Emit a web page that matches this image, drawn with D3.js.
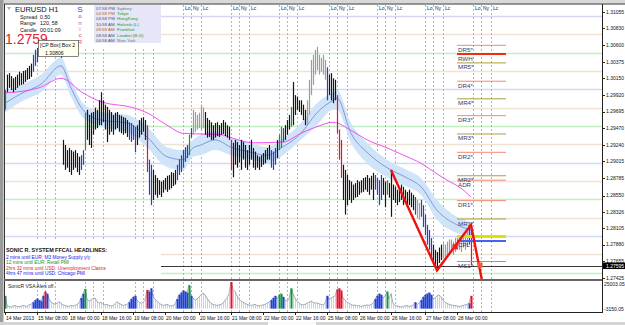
<!DOCTYPE html>
<html>
<head>
<meta charset="utf-8">
<script src="https://cdn.jsdelivr.net/npm/d3@7"></script>
<style>
  body { margin: 0; background: #fff; }
  svg { display: block; font-family: "Liberation Sans", Arial, sans-serif; }
</style>
</head>
<body>
<svg id="chart" width="625" height="325"></svg>
<script>
// EURUSD H1, 14-28 Mar 2013
const highs = [
  1.2999, 1.3020, 1.3022, 1.3018, 1.3015, 1.3017, 1.3020, 1.3024, 1.3022, 1.3025,
  1.3026, 1.3029, 1.3032, 1.3035, 1.3047, 1.3054, 1.3060, 1.3067, 1.3070, 1.3074,
  1.3078, 1.3081, 1.3081, 1.3077, 1.3074, 1.3073, 1.3070, 1.3067, 1.3065, 1.2931,
  1.2924, 1.2917, 1.2920, 1.2917, 1.2915, 1.2917, 1.2913, 1.2908, 1.2910, 1.2917,
  1.2968, 1.2972, 1.2965, 1.2968, 1.2969, 1.2975, 1.2972, 1.2985, 1.2996, 1.2985,
  1.2979, 1.2976, 1.2972, 1.2969, 1.2965, 1.2968, 1.2969, 1.2965, 1.2964, 1.2962,
  1.2961, 1.2958, 1.2955, 1.2954, 1.2951, 1.2949, 1.2951, 1.2958, 1.2961, 1.2962,
  1.2958, 1.2951, 1.2904, 1.2897, 1.2890, 1.2883, 1.2879, 1.2876, 1.2874, 1.2876,
  1.2879, 1.2882, 1.2883, 1.2887, 1.2886, 1.2890, 1.2897, 1.2904, 1.2910, 1.2917,
  1.2921, 1.2924, 1.2938, 1.2947, 1.2972, 1.2969, 1.2965, 1.2968, 1.2979, 1.2975,
  1.2969, 1.2961, 1.2958, 1.2955, 1.2951, 1.2954, 1.2955, 1.2951, 1.2954, 1.2958,
  1.2955, 1.2951, 1.2949, 1.2931, 1.2927, 1.2931, 1.2928, 1.2924, 1.2931, 1.2928,
  1.2924, 1.2917, 1.2924, 1.2931, 1.2920, 1.2915, 1.2910, 1.2908, 1.2910, 1.2913,
  1.2917, 1.2920, 1.2924, 1.2917, 1.2915, 1.2920, 1.2931, 1.2938, 1.2949, 1.2947,
  1.2951, 1.2958, 1.2965, 1.2976, 1.3010, 1.2992, 1.2990, 1.2985, 1.2985, 1.2979,
  1.2972, 1.2985, 1.3013, 1.3040, 1.3047, 1.3054, 1.3058, 1.3047, 1.3043, 1.3047,
  1.3040, 1.3030, 1.3020, 1.3022, 1.3015, 1.3013, 1.2992, 1.2945, 1.2931, 1.2897,
  1.2890, 1.2883, 1.2876, 1.2874, 1.2870, 1.2872, 1.2876, 1.2874, 1.2876, 1.2879,
  1.2880, 1.2883, 1.2879, 1.2882, 1.2886, 1.2883, 1.2879, 1.2876, 1.2883, 1.2879,
  1.2874, 1.2876, 1.2872, 1.2890, 1.2870, 1.2867, 1.2863, 1.2865, 1.2870, 1.2867,
  1.2863, 1.2860, 1.2863, 1.2859, 1.2856, 1.2853, 1.2849, 1.2845, 1.2849, 1.2842,
  1.2829, 1.2815, 1.2808, 1.2797, 1.2788, 1.2781, 1.2778, 1.2784, 1.2788, 1.2790,
  1.2788, 1.2792, 1.2795, 1.2795, 1.2792, 1.2797, 1.2800, 1.2801, 1.2799, 1.2804,
  1.2801, 1.2808, 1.2811, 1.2815
]
const lows = [
  1.2972, 1.2996, 1.3002, 1.2999, 1.2996, 1.2999, 1.3002, 1.3005, 1.3006, 1.3007,
  1.3010, 1.3013, 1.3014, 1.3017, 1.3024, 1.3032, 1.3037, 1.3047, 1.3051, 1.3054,
  1.3056, 1.3060, 1.3062, 1.3058, 1.3054, 1.3051, 1.3048, 1.3047, 1.3043, 1.2897,
  1.2890, 1.2893, 1.2887, 1.2883, 1.2890, 1.2893, 1.2887, 1.2883, 1.2890, 1.2897,
  1.2917, 1.2931, 1.2924, 1.2920, 1.2938, 1.2945, 1.2947, 1.2951, 1.2951, 1.2955,
  1.2945, 1.2928, 1.2938, 1.2942, 1.2938, 1.2945, 1.2947, 1.2942, 1.2940, 1.2938,
  1.2940, 1.2935, 1.2931, 1.2928, 1.2931, 1.2914, 1.2924, 1.2934, 1.2938, 1.2942,
  1.2931, 1.2887, 1.2856, 1.2842, 1.2849, 1.2856, 1.2852, 1.2856, 1.2853, 1.2859,
  1.2863, 1.2860, 1.2863, 1.2865, 1.2868, 1.2870, 1.2876, 1.2883, 1.2887, 1.2893,
  1.2901, 1.2906, 1.2910, 1.2934, 1.2938, 1.2942, 1.2945, 1.2947, 1.2945, 1.2947,
  1.2938, 1.2934, 1.2935, 1.2931, 1.2931, 1.2934, 1.2936, 1.2935, 1.2938, 1.2939,
  1.2936, 1.2934, 1.2931, 1.2890, 1.2880, 1.2897, 1.2893, 1.2900, 1.2890, 1.2904,
  1.2893, 1.2890, 1.2897, 1.2904, 1.2893, 1.2890, 1.2893, 1.2890, 1.2894, 1.2897,
  1.2899, 1.2904, 1.2904, 1.2893, 1.2890, 1.2897, 1.2906, 1.2917, 1.2920, 1.2928,
  1.2931, 1.2938, 1.2945, 1.2949, 1.2951, 1.2965, 1.2972, 1.2969, 1.2965, 1.2958,
  1.2951, 1.2951, 1.2965, 1.2992, 1.3006, 1.3020, 1.3026, 1.3020, 1.3024, 1.3020,
  1.3013, 1.2985, 1.2992, 1.2985, 1.2981, 1.2985, 1.2940, 1.2904, 1.2879, 1.2849,
  1.2829, 1.2842, 1.2849, 1.2845, 1.2849, 1.2852, 1.2853, 1.2856, 1.2859, 1.2860,
  1.2863, 1.2860, 1.2856, 1.2863, 1.2849, 1.2863, 1.2856, 1.2842, 1.2849, 1.2856,
  1.2839, 1.2856, 1.2852, 1.2826, 1.2849, 1.2845, 1.2842, 1.2846, 1.2849, 1.2842,
  1.2845, 1.2839, 1.2842, 1.2839, 1.2835, 1.2829, 1.2824, 1.2822, 1.2826, 1.2812,
  1.2801, 1.2788, 1.2781, 1.2767, 1.2764, 1.2760, 1.2756, 1.2763, 1.2767, 1.2770,
  1.2771, 1.2773, 1.2774, 1.2777, 1.2774, 1.2778, 1.2781, 1.2781, 1.2778, 1.2784,
  1.2781, 1.2785, 1.2788, 1.2760
]
// Sonic R VSA bar colouring: k normal, g grey, b blue, e green, r red  (runs of [type, count])
const barTypeRuns = [
  ['e',1],['k',13],['b',6],['r',1],['b',1],['k',16],['b',2],['e',1],['k',21],['b',4],['k',5],['r',1],
  ['b',2],['k',12],['b',6],['e',1],['b',1],['g',6],['k',13],['r',1],['k',19],['b',3],['k',1],['e',2],
  ['b',1],['k',3],['e',1],['k',7],['g',10],['b',1],['k',4],['r',3],['k',16],['b',4],['k',2],['e',1],
  ['k',13],['b',1],['g',2],['b',6],['k',5],['g',13],['b',1],['r',1]
]
const volumes = [
  12000,
  3000, 2000, 1500, 2500, 3000, 2000, 1800, 2200, 3000, 2500, 2000, 3500, 4000,
  6000, 8000, 9500, 8000, 7000,
  12000, 16000, 14000, 9000, 6000, 5000,
  4000, 5000, 6500, 5000, 3500, 3000, 2500, 2000, 3000, 2500, 3000, 4000, 5000,
  10000, 14000, 18500,
  9000, 7000, 8000, 9500, 10000, 7000, 5000, 6000, 4000, 3500, 4000, 3000, 2500, 3000, 4500, 6500, 5000, 4000, 3000, 3500, 4000,
  6000, 9000, 11000, 12000, 8000, 6000,
  5000, 6000, 8000, 17500, 16000, 19000, 12000, 9000,
  7000, 5000, 4000, 3000, 3500, 4000, 3000, 2500, 3000, 4000,
  9000, 13000, 15000, 17000, 16000, 15000, 22000, 12000,
  10000, 8000, 9000, 11000, 13000, 14500, 13000, 10000, 7000, 5000, 4000, 3500, 3000, 3500, 4000, 5000,
  8000, 10000, 14000, 25000, 18000, 16000, 12000,
  9000, 7000, 6000, 5000, 4000, 3500, 3000, 3500, 4000, 3000, 2500, 3000, 3500, 4000, 5000, 6000,
  8000, 10000, 12000, 9000, 13000, 14000, 11000, 8000, 7000, 9000, 19000,
  14000, 10000, 7000, 5000, 4000, 3500, 4000, 5000, 6000, 7000, 6000, 5000, 5500, 4500, 4000, 3500, 5000,
  12000, 9000, 10000, 11000, 12000, 18000, 19000, 17000, 10000,
  8000, 6000, 5000, 4000, 3000, 3500, 2500, 3000, 2000, 2500, 3000, 3500, 3000, 4000, 5000,
  9000, 12000, 14000, 13000, 10000, 12000, 16000, 9000, 14000,
  5000, 3000, 2500, 2000, 1500, 2000, 2500, 3000, 2000, 2500, 3000, 6000,
  4000, 5000, 8000, 11000, 13000, 14000, 15000, 13000, 9000,
  10000, 12000, 13000, 11000, 8000, 6000, 5000, 4000, 3500, 3000, 3000,
  2500, 2000, 2500, 3000, 3500, 4000,
  5000, 12000
]
// Sonic R dragon (EMA34 high / low / close) and the slow EMA, read at these bars
const bandIdx   = [0, 8, 18, 28, 33, 39, 48, 61, 71, 81, 89, 94, 98, 105, 113, 123, 131, 138, 148, 156, 164, 166, 173, 181, 191, 201, 208, 216, 226, 233]
const bandUpper = [1.2996, 1.3006, 1.3020, 1.3043, 1.3013, 1.2981, 1.2969, 1.2965, 1.2949, 1.2921, 1.2917, 1.2931, 1.2938, 1.2942, 1.2934, 1.2927, 1.2921, 1.2931, 1.2954, 1.2981, 1.2996, 1.2999, 1.2954, 1.2927, 1.2904, 1.2890, 1.2879, 1.2849, 1.2826, 1.2819]
const bandLower = [1.2968, 1.2983, 1.2996, 1.3020, 1.2990, 1.2961, 1.2949, 1.2942, 1.2921, 1.2894, 1.2890, 1.2908, 1.2910, 1.2917, 1.2910, 1.2904, 1.2899, 1.2908, 1.2931, 1.2951, 1.2972, 1.2972, 1.2927, 1.2899, 1.2880, 1.2867, 1.2856, 1.2822, 1.2804, 1.2799]
const bandMid   = [1.2981, 1.2994, 1.3007, 1.3032, 1.3002, 1.2972, 1.2958, 1.2954, 1.2935, 1.2908, 1.2904, 1.2920, 1.2924, 1.2931, 1.2921, 1.2914, 1.2910, 1.2920, 1.2940, 1.2968, 1.2985, 1.2988, 1.2940, 1.2914, 1.2893, 1.2879, 1.2867, 1.2835, 1.2815, 1.2808]
const slowIdx = [0, 17, 28, 39, 48, 64, 71, 81, 89, 98, 108, 113, 124, 139, 148, 156, 164, 173, 181, 191, 201, 208, 213, 221, 228, 233]
const slowMa  = [1.2995, 1.3002, 1.3015, 1.2995, 1.2983, 1.2975, 1.2968, 1.2951, 1.2940, 1.2939, 1.2938, 1.2934, 1.2927, 1.2928, 1.2940, 1.2949, 1.2955, 1.2944, 1.2931, 1.2920, 1.2908, 1.2899, 1.2890, 1.2876, 1.2865, 1.2853]

const priceTicks = [1.31055, 1.30830, 1.30600, 1.30375, 1.30150, 1.29920, 1.29695, 1.29470, 1.29240, 1.29015, 1.28785, 1.28550, 1.28326, 1.28105, 1.27880, 1.27655, 1.27425]
const timeLabelIdx = [0, 16, 32, 48, 64, 80, 97, 113, 129, 145, 161, 177, 193, 210, 226]
const timeLabels = ['14 Mar 2013', '15 Mar 08:00', '18 Mar 00:00', '18 Mar 16:00', '19 Mar 08:00', '20 Mar 00:00', '20 Mar 16:00', '21 Mar 08:00', '22 Mar 00:00', '22 Mar 16:00', '25 Mar 08:00', '26 Mar 00:00', '26 Mar 16:00', '27 Mar 08:00', '28 Mar 00:00']
const londonOpenIdx = [16, 40, 65, 89, 113, 137, 162, 186, 210, 234]
const sessionNames = ['Lo', 'Ny', 'Lc']
const sessionOffsets = [0, 4, 9]
const quarterLevels = [1.3100, 1.3075, 1.3050, 1.3025, 1.3000, 1.2975, 1.2950, 1.2925, 1.2900, 1.2875, 1.2850, 1.2825, 1.2800, 1.2775, 1.2750]

const pivotNames  = ['DR5*', 'RWH', 'MR5*', 'DR4*', 'MR4*', 'DR3*', 'MR3*', 'DR2*', 'MR2*', 'ADR', 'DR1*', 'MR1*', 'CPH', 'CPL', 'MS1*']
const pivotPrices = [1.3060, 1.3048, 1.3036, 1.3011, 1.2987, 1.2964, 1.2939, 1.2914, 1.2882, 1.2876, 1.2848, 1.2823, 1.2799, 1.2793, 1.2765]
const pivotKinds  = ['dr', 'rwh', 'mr', 'dr', 'mr', 'dr', 'mr', 'dr', 'mr', 'dr', 'dr', 'mr', 'cph', 'cpl', 'mr']

const zigzagIdx   = [193, 216, 233, 238.5]
const zigzagPrice = [1.2890, 1.2753, 1.2815, 1.2739]
const markerIdx   = [225, 237.5]
const markerPrice = [1.2785, 1.2760]
const bidPrice = 1.27595
const volumeRange = [-3150.05, 25003.05]

const clockTimes  = ['07:58 PM', '04:58 PM', '04:58 PM', '10:58 AM', '09:58 AM', '08:58 AM', '04:58 AM']
const clockCities = ['Sydney', 'Tokyo', 'HongKong', 'Helsinki (L)', 'Frankfurt', 'London (B.G)', 'New York']
const headlines = [
  'SONIC R. SYSTEM  FFCAL HEADLINES:',
  '2 mins until EUR: M3 Money Supply y/y',
  '12 mins until EUR: Retail PMI',
  '2hrs 32 mins until USD: Unemployment Claims',
  '4hrs 47 mins until USD: Chicago PMI'
]

// ---- layout ----
const main = { left: 5, right: 602, top: 5, bottom: 279 }
const sub = { top: 282, bottom: 312 }
const panelRight = 161   // info / headline boxes cover the chart left of this

const x = d3.scaleLinear().domain([0, 233]).range([5, 471])
const y = d3.scaleLinear().domain([1.2750, 1.3100]).range([272.5, 16])
const yv = d3.scaleLinear().domain(volumeRange).range([sub.bottom, sub.top])

const typeColor = { k: '#161616', g: '#9c9c9c', b: '#1f3fd8', e: '#0f9a3a', r: '#e8102c' }
const barTypes = barTypeRuns.flatMap(([t, n]) => d3.range(n).map(() => t))
const bars = highs.map((h, i) => ({ i, h, l: lows[i], t: barTypes[i], v: volumes[i] }))

const svg = d3.select('#chart')
const defs = svg.append('defs')
defs.append('clipPath').attr('id', 'clipMain').append('rect')
  .attr('x', main.left).attr('y', main.top).attr('width', main.right - main.left).attr('height', main.bottom - main.top)
defs.append('clipPath').attr('id', 'clipSub').append('rect')
  .attr('x', main.left).attr('y', sub.top).attr('width', main.right - main.left).attr('height', sub.bottom - sub.top)

svg.append('rect').attr('width', 625).attr('height', 325).attr('fill', '#fff')

const g = svg.append('g').attr('clip-path', 'url(#clipMain)')

// quarter-point levels
g.selectAll('.ql').data(quarterLevels).join('line')
  .attr('x1', main.left).attr('x2', main.right)
  .attr('y1', d => Math.round(y(d)) + 0.5).attr('y2', d => Math.round(y(d)) + 0.5)
  .attr('stroke', d => {
    const pip = Math.round(d * 10000) % 100
    return pip === 0 ? '#d6d6f6' : pip === 50 ? '#c2eec2' : '#eee2d2'
  })
  .attr('stroke-width', 1.3)

// session lines (London open, New York open, London close)
const sessions = londonOpenIdx.flatMap(lo => sessionOffsets.map((o, k) => ({ i: lo + o, name: sessionNames[k] })))
const sessionX = d => Math.round(x(d.i)) + 0.5
g.selectAll('.sl').data(sessions).join('line')
  .attr('x1', sessionX).attr('x2', sessionX).attr('y1', main.top).attr('y2', main.bottom)
  .attr('stroke', '#b4b4b4').attr('stroke-dasharray', '2,2')
g.selectAll('.st').data(sessions.filter(d => sessionX(d) > panelRight)).join('text')
  .attr('x', d => sessionX(d) + 1.5).attr('y', 9.5)
  .attr('font-size', 5).attr('fill', '#26265e').text(d => d.name)

// dragon band
const band = bandIdx.map((i, k) => ({ i, hi: bandUpper[k], lo: bandLower[k], mid: bandMid[k] }))
g.append('path').datum(band)
  .attr('d', d3.area().x(d => x(d.i)).y0(d => y(d.lo)).y1(d => y(d.hi)).curve(d3.curveMonotoneX))
  .attr('fill', '#cfe4f8')
g.append('path').datum(band)
  .attr('d', d3.line().x(d => x(d.i)).y(d => y(d.mid)).curve(d3.curveMonotoneX))
  .attr('fill', 'none').attr('stroke', '#7d8fd8').attr('stroke-width', 0.9)

const slow = slowIdx.map((i, k) => ({ i, v: slowMa[k] }))
g.append('path').datum(slow)
  .attr('d', d3.line().x(d => x(d.i)).y(d => y(d.v)).curve(d3.curveMonotoneX))
  .attr('fill', 'none').attr('stroke', '#f040f0').attr('stroke-width', 0.9)

// price bars
g.selectAll('.bar').data(bars).join('line')
  .attr('x1', d => Math.round(x(d.i)) + 0.5).attr('x2', d => Math.round(x(d.i)) + 0.5)
  .attr('y1', d => y(d.h)).attr('y2', d => y(d.l))
  .attr('stroke', d => typeColor[d.t]).attr('stroke-width', 1.2)

// pivot levels on the right
const pivots = pivotNames.map((n, k) => ({ n, p: pivotPrices[k], kind: pivotKinds[k] }))
const pivotStyle = {
  dr: ['#f7866e', 1], rwh: ['#f42a10', 2], mr: ['#a8a23c', 1], cph: ['#e2e000', 3], cpl: ['#4466ee', 2]
}
g.selectAll('.pv').data(pivots).join('line')
  .attr('x1', x(226)).attr('x2', x(250.5))
  .attr('y1', d => y(d.p)).attr('y2', d => y(d.p))
  .attr('stroke', d => pivotStyle[d.kind][0]).attr('stroke-width', d => pivotStyle[d.kind][1])
g.selectAll('.pvt').data(pivots.filter(d => d.kind !== 'cph')).join('text')
  .attr('x', x(226.5)).attr('y', d => y(d.p) + 6.5)
  .attr('font-size', 6.2).attr('fill', '#3a3a66').text(d => d.n)

// bid line
g.append('line').attr('x1', main.left).attr('x2', main.right)
  .attr('y1', Math.round(y(bidPrice)) + 0.5).attr('y2', Math.round(y(bidPrice)) + 0.5)
  .attr('stroke', '#3a3a3a')

// zigzag projection
const zz = zigzagIdx.map((i, k) => ({ i, p: zigzagPrice[k] }))
svg.append('path').datum(zz)
  .attr('d', d3.line().x(d => x(d.i)).y(d => y(d.p)))
  .attr('fill', 'none').attr('stroke', '#f01010').attr('stroke-width', 2.4)
svg.selectAll('.mk').data(markerIdx.map((i, k) => ({ i, p: markerPrice[k] }))).join('rect')
  .attr('x', d => x(d.i) - 2.5).attr('y', d => y(d.p) - 2.5).attr('width', 5).attr('height', 5)
  .attr('fill', (d, k) => k === 0 ? '#e82020' : '#f25a2a')

// ---- volume panel ----
const gv = svg.append('g').attr('clip-path', 'url(#clipSub)')
gv.selectAll('.svl').data(sessions).join('line')
  .attr('x1', sessionX).attr('x2', sessionX).attr('y1', sub.top).attr('y2', sub.bottom)
  .attr('stroke', '#b4b4b4').attr('stroke-dasharray', '2,2')
gv.selectAll('.vh').data(bars.filter(d => d.t === 'k' || d.t === 'g')).join('line')
  .attr('x1', d => Math.round(x(d.i)) + 0.5).attr('x2', d => Math.round(x(d.i)) + 0.5)
  .attr('y1', yv(0)).attr('y2', d => yv(d.v))
  .attr('stroke', '#cdd2d8')
gv.append('path').datum(bars)
  .attr('d', d3.line().x(d => x(d.i)).y(d => yv(d.v)))
  .attr('fill', 'none').attr('stroke', '#8d9aab').attr('stroke-width', 0.8)
gv.selectAll('.vc').data(bars.filter(d => d.t !== 'k' && d.t !== 'g')).join('rect')
  .attr('x', d => Math.round(x(d.i)) - 0.5).attr('width', 2)
  .attr('y', d => yv(d.v)).attr('height', d => yv(0) - yv(d.v))
  .attr('fill', d => typeColor[d.t])
svg.append('text').attr('x', 8).attr('y', 288).attr('font-size', 5).attr('fill', '#222')
  .text('SonicR VSA   Alert off.')

// ---- info panel (top left) ----
svg.append('rect').attr('x', main.left).attr('y', main.top).attr('width', panelRight - main.left).attr('height', 43).attr('fill', '#fff')
svg.append('rect').attr('x', 94).attr('y', main.top).attr('width', panelRight - 94).attr('height', 38).attr('fill', '#e6e6f8')
svg.append('path').attr('d', 'M7,7 L11,7 L9,10 Z').attr('fill', '#b0b0b0')
svg.append('text').attr('x', 15).attr('y', 12).attr('font-size', 7.5).attr('fill', '#111').text('EURUSD  H1')
const infoRows = [['Spread', '0.50'], ['Range', '120, 58'], ['Candle', '00:01:09']]
infoRows.forEach(([k, v], n) => {
  svg.append('text').attr('x', 20).attr('y', 18.5 + n * 6.5).attr('font-size', 5.3).attr('fill', '#111').text(k)
  svg.append('text').attr('x', 40).attr('y', 18.5 + n * 6.5).attr('font-size', 5.3).attr('fill', '#111').text(v)
})
svg.append('text').attr('x', 5).attr('y', 44).attr('font-size', 14).attr('fill', '#e8202c').text('1.2759')
const sonic = ['S', 'o', 'n', 'i', 'c', 'R']
const sonicColor = ['#2244ee', '#3a4ae0', '#8866aa', '#9a70a0', '#c06080', '#e84060']
sonic.forEach((c, n) => {
  svg.append('text').attr('x', 80).attr('y', 12 + n * 6.3).attr('text-anchor', 'middle')
    .attr('font-size', n === 0 ? 8 : 6).attr('fill', sonicColor[n]).text(c)
})
clockTimes.forEach((t, n) => {
  svg.append('text').attr('x', 96).attr('y', 9.5 + n * 5.4).attr('font-size', 4.4)
    .attr('fill', n === 1 || n === 4 ? '#b06a20' : '#555').text(t)
  svg.append('text').attr('x', 117).attr('y', 9.5 + n * 5.4).attr('font-size', 4.4)
    .attr('fill', n === 0 || n === 6 ? '#777' : '#1a9a2a').text(clockCities[n])
})
svg.append('rect').attr('x', 38.5).attr('y', 40.5).attr('width', 40).attr('height', 16)
  .attr('fill', '#ffffee').attr('stroke', '#333').attr('stroke-width', 0.6)
svg.append('text').attr('x', 40).attr('y', 47).attr('font-size', 5.2).attr('fill', '#111').text('[CP Box] Box 2')
svg.append('text').attr('x', 45).attr('y', 54.5).attr('font-size', 5.2).attr('fill', '#111').text('1.30806')

// ---- headlines (bottom left) ----
svg.append('rect').attr('x', main.left).attr('y', 241).attr('width', panelRight - main.left).attr('height', main.bottom - 241).attr('fill', '#fff')
const headColor = ['#111', '#1a1ae0', '#14941e', '#e0183a', '#1a1ae0']
headlines.forEach((h, n) => {
  svg.append('text').attr('x', 6).attr('y', [252, 258.5, 264, 269.5, 275][n])
    .attr('font-size', n === 0 ? 5.4 : 4.8).attr('font-weight', n === 0 ? 'bold' : 'normal')
    .attr('fill', headColor[n]).text(h)
})

// ---- frames ----
svg.append('rect').attr('x', 0).attr('y', 0).attr('width', 625).attr('height', 3.5).attr('fill', '#d8d8d8')
svg.append('rect').attr('x', 0).attr('y', 0).attr('width', 3.5).attr('height', 325).attr('fill', '#9a9a9a')
svg.append('line').attr('x1', 4).attr('x2', 625).attr('y1', 4).attr('y2', 4).attr('stroke', '#333')
svg.append('line').attr('x1', 4.5).attr('x2', 4.5).attr('y1', 4).attr('y2', sub.bottom).attr('stroke', '#333')
svg.append('line').attr('x1', main.right + 0.5).attr('x2', main.right + 0.5).attr('y1', 4).attr('y2', sub.bottom + 1).attr('stroke', '#222')
svg.append('line').attr('x1', 4).attr('x2', main.right).attr('y1', main.bottom + 0.5).attr('y2', main.bottom + 0.5).attr('stroke', '#666')
svg.append('line').attr('x1', 4).attr('x2', main.right).attr('y1', sub.top - 1.5).attr('y2', sub.top - 1.5).attr('stroke', '#666')
svg.append('line').attr('x1', 4).attr('x2', main.right + 1).attr('y1', sub.bottom + 0.5).attr('y2', sub.bottom + 0.5).attr('stroke', '#222')
svg.append('rect').attr('x', 0).attr('y', 322).attr('width', 625).attr('height', 3).attr('fill', '#d4d4d4')
svg.append('rect').attr('x', 268).attr('y', 322).attr('width', 48).attr('height', 3).attr('fill', '#fafafa')

// price axis
const ya = svg.append('g')
ya.selectAll('line').data(priceTicks).join('line')
  .attr('x1', main.right).attr('x2', main.right + 3)
  .attr('y1', d => Math.round(y(d)) + 0.5).attr('y2', d => Math.round(y(d)) + 0.5).attr('stroke', '#222')
ya.selectAll('text').data(priceTicks).join('text')
  .attr('x', main.right + 4).attr('y', d => y(d) + 1.8)
  .attr('font-size', 5).attr('fill', '#111').text(d => d.toFixed(5))
svg.append('rect').attr('x', main.right + 1).attr('y', y(bidPrice) - 3).attr('width', 22).attr('height', 6.5).attr('fill', '#000')
svg.append('text').attr('x', main.right + 4).attr('y', y(bidPrice) + 2).attr('font-size', 5).attr('fill', '#fff').text(bidPrice.toFixed(5))
svg.append('text').attr('x', main.right + 2).attr('y', sub.top + 4).attr('font-size', 5).attr('fill', '#111').text(volumeRange[1].toFixed(2))
svg.append('text').attr('x', main.right + 2).attr('y', sub.bottom - 1).attr('font-size', 5).attr('fill', '#111').text(volumeRange[0].toFixed(2))

// time axis
const xa = svg.append('g')
xa.selectAll('line').data(timeLabelIdx).join('line')
  .attr('x1', d => Math.round(x(d)) + 0.5).attr('x2', d => Math.round(x(d)) + 0.5)
  .attr('y1', sub.bottom).attr('y2', sub.bottom + 3).attr('stroke', '#222')
xa.selectAll('text').data(timeLabelIdx).join('text')
  .attr('x', d => x(d) + 1).attr('y', 320)
  .attr('font-size', 5).attr('fill', '#111').text((d, k) => timeLabels[k])
</script>
</body>
</html>
